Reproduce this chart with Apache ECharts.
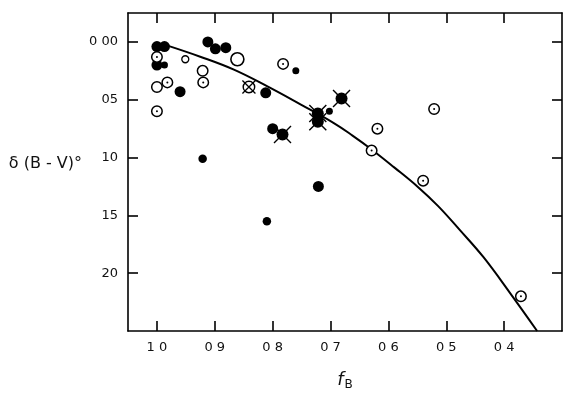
<!DOCTYPE html>
<html>
<head>
<meta charset="utf-8">
<script src="https://cdn.jsdelivr.net/npm/echarts@6/dist/echarts.min.js"></script>
<style>
  html, body { margin: 0; padding: 0; background: #fff; }
  #chart { width: 570px; height: 396px; }
</style>
</head>
<body>
<div id="chart"></div>
<script>
// tick positions and their printed labels (decimal points lost in the scan)
const xTickValues = [1.0, 0.9, 0.8, 0.7, 0.6, 0.5, 0.4];
const xTickLabels = ['1 0', '0 9', '0 8', '0 7', '0 6', '0 5', '0 4'];
const yTickValues = [0, 0.05, 0.10, 0.15, 0.20];
const yTickLabels = ['0 00', '05', '10', '15', '20'];

// [f_B, delta(B-V)]
const filledLarge = [
  [1.000, 0.004], [0.987, 0.004], [1.000, 0.020], [0.912, 0.000],
  [0.899, 0.006], [0.881, 0.005], [0.960, 0.043], [0.812, 0.044],
  [0.800, 0.075], [0.721, 0.125]
];
const filledMedium = [[0.921, 0.101], [0.810, 0.155]];
const filledSmall = [[0.987, 0.020], [0.760, 0.025], [0.702, 0.060]];
const filledCrossed = [[0.783, 0.080], [0.722, 0.062], [0.722, 0.069], [0.681, 0.049]];
const openDotted = [
  [1.000, 0.013], [0.982, 0.035], [0.920, 0.035], [1.000, 0.060],
  [0.782, 0.019], [0.619, 0.075], [0.521, 0.058], [0.629, 0.094],
  [0.540, 0.120], [0.371, 0.220]
];
const openPlain = [[1.000, 0.039], [0.921, 0.025]];
const openLarge = [[0.861, 0.015]];
const openSmall = [[0.951, 0.015]];
const openCrossed = [[0.841, 0.039]];
const curve = [
  [0.983, 0.003], [0.924, 0.013], [0.867, 0.024], [0.809, 0.0385],
  [0.752, 0.054], [0.695, 0.070], [0.662, 0.081], [0.629, 0.093],
  [0.590, 0.1085], [0.550, 0.125], [0.514, 0.142], [0.476, 0.163],
  [0.436, 0.186], [0.390, 0.217], [0.343, 0.250]
];

const chart = echarts.init(document.getElementById('chart'));
const FONT = 'DejaVu Sans';
const CROSS = 'path://M0 0L10 10M10 0L0 10';

function labelOf(values, labels, v) {
  const i = values.findIndex(t => Math.abs(t - v) < 1e-6);
  return i < 0 ? '' : labels[i];
}

const xBase = {
  type: 'value',
  min: 0.3,
  max: 1.05,
  inverse: true,
  splitLine: { show: false },
  axisLine: { onZero: false, lineStyle: { color: '#000', width: 1.6 } },
  axisTick: { inside: true, length: 10, customValues: xTickValues, lineStyle: { color: '#000', width: 1.6 } }
};
const yBase = {
  type: 'value',
  min: -0.025,
  max: 0.25,
  inverse: true,
  splitLine: { show: false },
  axisLine: { onZero: false, lineStyle: { color: '#000', width: 1.6 } },
  axisTick: { inside: true, length: 10, customValues: yTickValues, lineStyle: { color: '#000', width: 1.6 } }
};

const option = {
  backgroundColor: '#fff',
  animation: false,
  grid: { left: 128, right: 8, top: 13, bottom: 65 },
  xAxis: [
    {
      ...xBase,
      position: 'bottom',
      name: '{f|f}{s|B}',
      nameLocation: 'middle',
      nameGap: 38,
      nameTextStyle: {
        rich: {
          f: { fontFamily: FONT, fontStyle: 'italic', fontSize: 18, color: '#111' },
          s: { fontFamily: FONT, fontSize: 12, color: '#111', padding: [10, 0, 0, 1] }
        }
      },
      axisLabel: {
        customValues: xTickValues,
        margin: 10,
        fontFamily: FONT,
        fontSize: 13,
        color: '#111',
        formatter: v => labelOf(xTickValues, xTickLabels, v)
      }
    },
    { ...xBase, position: 'top', axisLabel: { show: false } }
  ],
  yAxis: [
    {
      ...yBase,
      position: 'left',
      name: 'δ (B - V)°',
      nameLocation: 'middle',
      nameRotate: 0,
      nameGap: 46,
      nameTextStyle: {
        fontFamily: FONT, fontSize: 16, color: '#111',
        align: 'right', verticalAlign: 'bottom'
      },
      axisLabel: {
        customValues: yTickValues,
        margin: 10,
        fontFamily: FONT,
        fontSize: 13,
        color: '#111',
        formatter: v => labelOf(yTickValues, yTickLabels, v)
      }
    },
    { ...yBase, position: 'right', axisLabel: { show: false } }
  ],
  series: [
    {
      type: 'line', data: curve, smooth: 0.4, showSymbol: false, symbol: 'none',
      lineStyle: { color: '#000', width: 2 }, z: 1
    },
    {
      type: 'scatter', data: filledCrossed, symbol: CROSS, symbolSize: 17,
      itemStyle: { color: 'transparent', borderColor: '#000', borderWidth: 1.4, opacity: 1 }, z: 2
    },
    { type: 'scatter', data: filledCrossed, symbolSize: 12, itemStyle: { color: '#000', opacity: 1 }, z: 3 },
    { type: 'scatter', data: filledLarge, symbolSize: 11, itemStyle: { color: '#000', opacity: 1 }, z: 3 },
    { type: 'scatter', data: filledMedium, symbolSize: 8.5, itemStyle: { color: '#000', opacity: 1 }, z: 3 },
    { type: 'scatter', data: filledSmall, symbolSize: 7, itemStyle: { color: '#000', opacity: 1 }, z: 3 },
    {
      type: 'scatter', data: openDotted, symbolSize: 10.5,
      itemStyle: { color: '#fff', borderColor: '#000', borderWidth: 1.5, opacity: 1 }, z: 4
    },
    { type: 'scatter', data: openDotted, symbolSize: 2, itemStyle: { color: '#000', opacity: 1 }, z: 5 },
    {
      type: 'scatter', data: openPlain, symbolSize: 10.5,
      itemStyle: { color: '#fff', borderColor: '#000', borderWidth: 1.5, opacity: 1 }, z: 4
    },
    {
      type: 'scatter', data: openLarge, symbolSize: 13,
      itemStyle: { color: '#fff', borderColor: '#000', borderWidth: 1.6, opacity: 1 }, z: 4
    },
    {
      type: 'scatter', data: openSmall, symbolSize: 7,
      itemStyle: { color: '#fff', borderColor: '#000', borderWidth: 1.3, opacity: 1 }, z: 4
    },
    {
      type: 'scatter', data: openCrossed, symbolSize: 11.5,
      itemStyle: { color: '#fff', borderColor: '#000', borderWidth: 1.4, opacity: 1 }, z: 4
    },
    {
      type: 'scatter', data: openCrossed, symbol: CROSS, symbolSize: 13,
      itemStyle: { color: 'transparent', borderColor: '#000', borderWidth: 1.3, opacity: 1 }, z: 5
    }
  ]
};
chart.setOption(option);
</script>
</body>
</html>
